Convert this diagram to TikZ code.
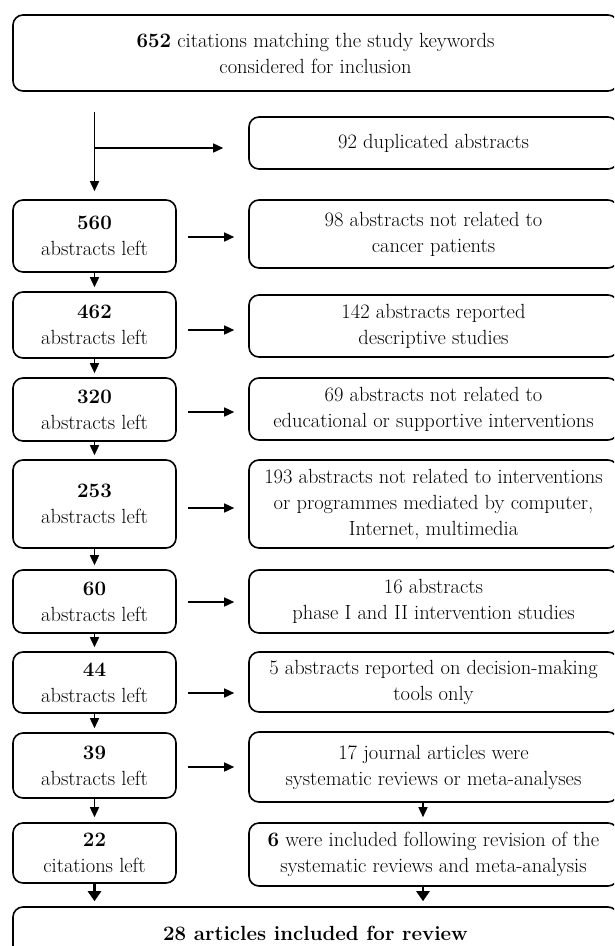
\documentclass[tikz,border=0pt]{standalone}
\usetikzlibrary{arrows.meta}
\begin{document}
\begin{tikzpicture}[x=1pt,y=-1pt,
  box/.style={draw, line width=1.6pt, rounded corners=10pt, align=center, inner sep=0pt, font=\fontsize{20.5}{26}\selectfont},
  lbox/.style={box, minimum width=163pt},
  rbox/.style={box, minimum width=369pt},
  wbox/.style={box, minimum width=605pt},
  arr/.style={-{Triangle[length=10pt,width=9pt]}, line width=1.5pt},
  bigarr/.style={-{Triangle[length=10pt,width=13pt]}, line width=2.7pt}]
\useasboundingbox (0,0) rectangle (614,946);
\fill[white] (0,0) rectangle (614,946);
\clip (0,0) rectangle (614,946);
% nodes
\node[wbox, minimum height=76pt] (top) at (315.5,53) {\textbf{652} citations matching the study keywords\\considered for inclusion};
\node[rbox, minimum height=52pt] (r92) at (433.5,143) {92 duplicated abstracts};
\node[lbox, minimum height=72pt] (l560) at (94.5,236) {\textbf{560}\\abstracts left};
\node[rbox, minimum height=68pt] (r98) at (433.5,234) {98 abstracts not related to\\cancer patients};
\node[lbox, minimum height=66pt] (l462) at (94.5,325) {\textbf{462}\\abstracts left};
\node[rbox, minimum height=62pt] (r142) at (433.5,326) {142 abstracts reported\\descriptive studies};
\node[lbox, minimum height=63pt] (l320) at (94.5,409.5) {\textbf{320}\\abstracts left};
\node[rbox, minimum height=62pt] (r69) at (433.5,409) {69 abstracts not related to\\educational or supportive interventions};
\node[lbox, minimum height=88pt] (l253) at (94.5,504) {\textbf{253}\\abstracts left};
\node[rbox, minimum height=88pt] (r193) at (433.5,504) {193 abstracts not related to interventions\\or programmes mediated by computer,\\Internet, multimedia};
\node[lbox, minimum height=63pt] (l60) at (94.5,601.5) {\textbf{60}\\abstracts left};
\node[rbox, minimum height=63pt] (r16) at (433.5,601.5) {16 abstracts\\phase I and II intervention studies};
\node[lbox, minimum height=61pt] (l44) at (94.5,682.5) {\textbf{44}\\abstracts left};
\node[rbox, minimum height=60pt] (r5) at (433.5,682) {5 abstracts reported on decision-making\\tools only};
\node[lbox, minimum height=65pt] (l39) at (94.5,765.5) {\textbf{39}\\abstracts left};
\node[rbox, minimum height=70pt] (r17) at (433.5,767) {17 journal articles were\\systematic reviews or meta-analyses};
\node[lbox, minimum height=60pt] (l22) at (94.5,853) {\textbf{22}\\citations left};
\node[rbox, minimum height=63pt] (r6) at (433.5,854.5) {\textbf{6} were included following revision of the\\systematic reviews and meta-analysis};
\node[wbox, minimum height=52pt] (bot) at (315.5,933) {\textbf{28 articles included for review}};
% helper coordinates
\coordinate (b0) at (94.5,148);
\coordinate (a1) at (0,237);
\coordinate (a2) at (0,330);
\coordinate (a3) at (0,412);
\coordinate (a4) at (0,508);
\coordinate (a5) at (0,602);
\coordinate (a6) at (0,693);
\coordinate (a7) at (0,767);
\coordinate (cx) at (423,0);
% connectors
\draw[arr, shorten <=20pt, shorten >=8pt] (top.south -| l560.north) -- (l560.north);
\draw[arr, shorten >=25pt] (b0) -- (b0 -| r92.west);
\draw[arr, shorten <=11pt, shorten >=14pt] (l560.east |- a1) -- (r98.west |- a1);
\draw[arr, shorten <=11pt, shorten >=14pt] (l462.east |- a2) -- (r142.west |- a2);
\draw[arr, shorten <=11pt, shorten >=14pt] (l320.east |- a3) -- (r69.west |- a3);
\draw[arr, shorten <=11pt, shorten >=14pt] (l253.east |- a4) -- (r193.west |- a4);
\draw[arr, shorten <=11pt, shorten >=14pt] (l60.east |- a5) -- (r16.west |- a5);
\draw[arr, shorten <=11pt, shorten >=14pt] (l44.east |- a6) -- (r5.west |- a6);
\draw[arr, shorten <=11pt, shorten >=14pt] (l39.east |- a7) -- (r17.west |- a7);
\draw[arr, shorten >=4pt] (l560.south) -- (l462.north);
\draw[arr, shorten >=4pt] (l462.south) -- (l320.north);
\draw[arr, shorten >=4pt] (l320.south) -- (l253.north);
\draw[arr, shorten >=4pt] (l253.south) -- (l60.north);
\draw[arr, shorten >=4pt] (l60.south) -- (l44.north);
\draw[arr, shorten >=4pt] (l44.south) -- (l39.north);
\draw[arr, shorten >=5pt] (l39.south) -- (l22.north);
\draw[arr, shorten >=5pt] (r17.south -| cx) -- (r6.north -| cx);
\draw[bigarr, shorten >=5pt] (l22.south) -- (bot.north -| l22.south);
\draw[bigarr, shorten >=5pt] (r6.south -| cx) -- (bot.north -| cx);
\end{tikzpicture}
\end{document}
